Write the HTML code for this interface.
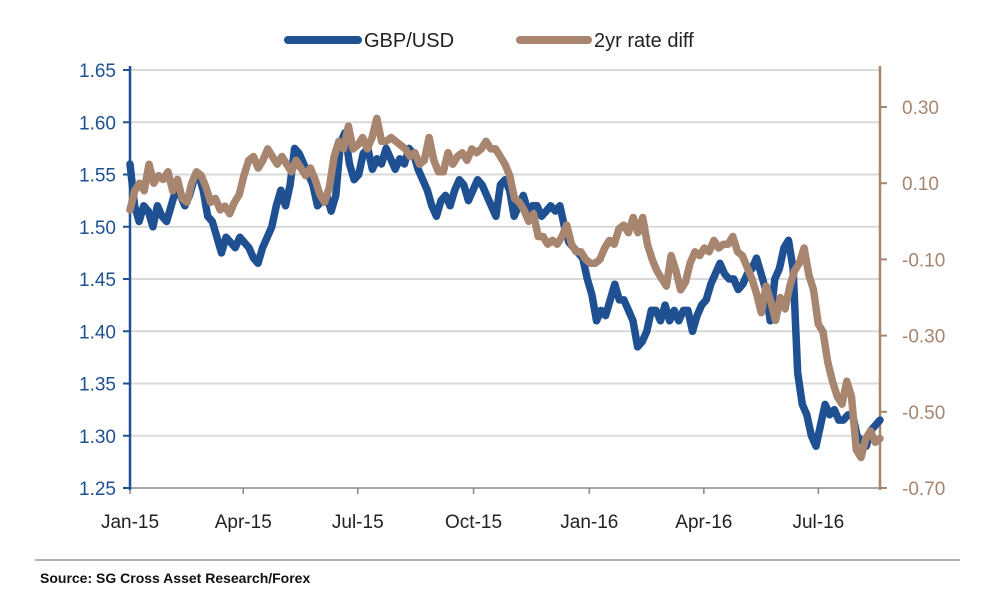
<!DOCTYPE html>
<html><head><meta charset="utf-8"><style>
body{margin:0;background:#fff;width:983px;height:600px;overflow:hidden;font-family:"Liberation Sans",sans-serif}
</style></head><body>
<svg id="chart" width="983" height="600" font-family="Liberation Sans, sans-serif"></svg>
<script>
const xTickLabels=["Jan-15","Apr-15","Jul-15","Oct-15","Jan-16","Apr-16","Jul-16"];
const xTickDays=[0,90,181,273,365,456,547];
const leftTicks=[1.25,1.30,1.35,1.40,1.45,1.50,1.55,1.60,1.65];
const rightTicks=[-0.70,-0.50,-0.30,-0.10,0.10,0.30];
const gbpUsd=[1.56,1.52,1.505,1.52,1.515,1.50,1.52,1.51,1.505,1.52,1.535,1.53,1.52,1.53,1.545,1.55,1.535,1.51,1.505,1.49,1.475,1.49,1.485,1.48,1.49,1.485,1.48,1.47,1.465,1.48,1.49,1.50,1.52,1.535,1.52,1.54,1.575,1.57,1.56,1.55,1.54,1.52,1.525,1.53,1.515,1.53,1.58,1.59,1.56,1.545,1.55,1.57,1.575,1.555,1.565,1.56,1.575,1.565,1.555,1.565,1.56,1.575,1.57,1.555,1.545,1.535,1.52,1.51,1.525,1.53,1.52,1.535,1.545,1.54,1.525,1.535,1.545,1.54,1.53,1.52,1.51,1.54,1.545,1.535,1.51,1.52,1.53,1.515,1.52,1.52,1.51,1.515,1.52,1.515,1.52,1.50,1.485,1.48,1.475,1.47,1.45,1.435,1.41,1.42,1.415,1.43,1.445,1.43,1.43,1.42,1.41,1.385,1.39,1.40,1.42,1.42,1.41,1.425,1.41,1.42,1.41,1.42,1.42,1.40,1.415,1.425,1.43,1.445,1.455,1.465,1.455,1.45,1.45,1.44,1.445,1.455,1.46,1.47,1.455,1.44,1.41,1.45,1.46,1.48,1.487,1.46,1.36,1.33,1.32,1.30,1.29,1.31,1.33,1.32,1.325,1.315,1.315,1.32,1.32,1.30,1.295,1.29,1.305,1.31,1.315];
const rateDiff=[0.03,0.08,0.10,0.08,0.15,0.10,0.12,0.11,0.13,0.08,0.11,0.06,0.05,0.10,0.13,0.12,0.09,0.05,0.06,0.03,0.04,0.02,0.05,0.07,0.12,0.16,0.17,0.14,0.16,0.19,0.17,0.15,0.17,0.15,0.13,0.16,0.14,0.12,0.14,0.11,0.07,0.05,0.09,0.17,0.21,0.19,0.25,0.19,0.20,0.22,0.19,0.22,0.27,0.21,0.21,0.22,0.21,0.20,0.19,0.17,0.18,0.15,0.16,0.22,0.16,0.13,0.13,0.18,0.15,0.17,0.18,0.16,0.19,0.18,0.19,0.21,0.19,0.19,0.17,0.15,0.12,0.06,0.05,0.03,0.00,0.02,-0.04,-0.04,-0.06,-0.05,-0.06,-0.04,-0.01,-0.06,-0.08,-0.08,-0.10,-0.11,-0.11,-0.10,-0.07,-0.05,-0.06,-0.02,-0.01,-0.03,0.01,-0.03,0.01,-0.06,-0.10,-0.13,-0.15,-0.17,-0.09,-0.13,-0.18,-0.16,-0.11,-0.08,-0.09,-0.07,-0.08,-0.05,-0.07,-0.06,-0.06,-0.04,-0.08,-0.09,-0.12,-0.15,-0.19,-0.24,-0.17,-0.21,-0.26,-0.20,-0.23,-0.17,-0.13,-0.11,-0.07,-0.14,-0.18,-0.27,-0.29,-0.37,-0.42,-0.46,-0.48,-0.42,-0.46,-0.60,-0.62,-0.57,-0.55,-0.58,-0.57];
const endDay=596;
const X0=130,X1=880;
const xDay=d=>X0+d*(X1-X0)/endDay;
const yL=v=>488-(v-1.25)*(418/0.40);
const yR=v=>488-(v+0.70)*(381/1.0);
const svg=document.getElementById('chart');
const NS='http://www.w3.org/2000/svg';
function mk(t,a,txt){const e=document.createElementNS(NS,t);for(const k in a)e.setAttribute(k,a[k]);if(txt!=null)e.textContent=txt;svg.appendChild(e);return e;}
const BLUE='#1f5192',TAN='#a8856f';
leftTicks.forEach(v=>{if(v>1.25){const g=mk('line',{x1:X0,x2:X1,y1:yL(v),y2:yL(v),stroke:'#d9d9d9','stroke-width':2});

}
const t=mk('line',{x1:X0-7,x2:X0,y1:yL(v),y2:yL(v),stroke:BLUE,'stroke-width':2});


const l=mk('text',{x:X0-14,y:yL(v)+7,'text-anchor':'end','font-size':19,fill:BLUE},v.toFixed(2));

});
rightTicks.forEach(v=>{const t=mk('line',{x1:X1,x2:X1+7,y1:yR(v),y2:yR(v),stroke:TAN,'stroke-width':2});


const l=mk('text',{x:X1+22,y:yR(v)+7,'font-size':19,fill:TAN},v.toFixed(2));

});
const xa=mk('line',{x1:X0,x2:X1,y1:488,y2:488,stroke:'#888','stroke-width':1.5});


xTickDays.forEach((d,i)=>{const t=mk('line',{x1:xDay(d),x2:xDay(d),y1:488,y2:494,stroke:'#888','stroke-width':1.5});


const l=mk('text',{x:xDay(d),y:528,'text-anchor':'middle','font-size':19,fill:'#222'},xTickLabels[i]);

});
const la=mk('line',{x1:X0,x2:X0,y1:66,y2:490,stroke:BLUE,'stroke-width':2.5});


const ra=mk('line',{x1:X1,x2:X1,y1:66,y2:490,stroke:TAN,'stroke-width':2.5});


function path(arr,ys){const n=arr.length;return arr.map((v,i)=>(i?'L':'M')+xDay(i*endDay/(n-1)).toFixed(1)+','+ys(v).toFixed(1)).join('');}
const p1=mk('path',{d:path(gbpUsd,yL),fill:'none',stroke:BLUE,'stroke-width':7.5,'stroke-linejoin':'round','stroke-linecap':'round'});


const p2=mk('path',{d:path(rateDiff,yR),fill:'none',stroke:TAN,'stroke-width':7.5,'stroke-linejoin':'round','stroke-linecap':'round'});


const lg1=mk('line',{x1:288,x2:358,y1:40,y2:40,stroke:BLUE,'stroke-width':8,'stroke-linecap':'round'});


const lt1=mk('text',{x:364,y:47,'font-size':20,fill:'#222'},'GBP/USD');


const lg2=mk('line',{x1:520,x2:588,y1:40,y2:40,stroke:TAN,'stroke-width':8,'stroke-linecap':'round'});


const lt2=mk('text',{x:594,y:47,'font-size':20,fill:'#222'},'2yr rate diff');


const sl=mk('line',{x1:35,x2:960,y1:560,y2:560,stroke:'#666','stroke-width':1});


const st=mk('text',{x:40,y:583,'font-size':14,'font-weight':'bold',fill:'#111'},'Source: SG Cross Asset Research/Forex');


</script>
</body></html>
